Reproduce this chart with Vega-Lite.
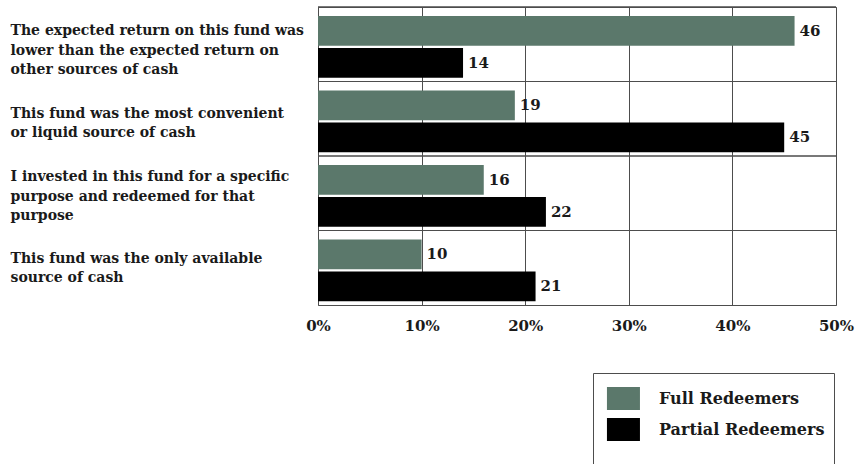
{
  "$schema": "https://vega.github.io/schema/vega-lite/v6.json",
  "width": 518,
  "height": 298,
  "autosize": {"type": "none"},
  "padding": {"left": 318, "top": 7, "right": 23, "bottom": 159},
  "background": "white",
  "config": {
    "view": {"stroke": "#4d4d4d", "strokeWidth": 1},
    "font": "DejaVu Serif"
  },
  "data": {
    "values": [
      {"reason": "The expected return on this fund was|lower than the expected return on|other sources of cash", "group": "Full Redeemers", "pct": 46},
      {"reason": "The expected return on this fund was|lower than the expected return on|other sources of cash", "group": "Partial Redeemers", "pct": 14},
      {"reason": "This fund was the most convenient|or liquid source of cash", "group": "Full Redeemers", "pct": 19},
      {"reason": "This fund was the most convenient|or liquid source of cash", "group": "Partial Redeemers", "pct": 45},
      {"reason": "I invested in this fund for a specific|purpose and redeemed for that|purpose", "group": "Full Redeemers", "pct": 16},
      {"reason": "I invested in this fund for a specific|purpose and redeemed for that|purpose", "group": "Partial Redeemers", "pct": 22},
      {"reason": "This fund was the only available|source of cash", "group": "Full Redeemers", "pct": 10},
      {"reason": "This fund was the only available|source of cash", "group": "Partial Redeemers", "pct": 21}
    ]
  },
  "layer": [
    {
      "mark": {"type": "rule", "color": "#4d4d4d", "strokeWidth": 1},
      "encoding": {
        "y": {
          "field": "reason", "type": "nominal", "sort": null, "bandPosition": 0,
          "scale": {"paddingInner": 0, "paddingOuter": 0},
          "axis": {
            "title": null, "ticks": false, "tickSize": 0, "domain": false, "grid": false,
            "labelAlign": "left", "labelBaseline": "middle", "labelPadding": 308,
            "labelExpr": "split(datum.value, '|')",
            "labelOffset": {"condition": [
              {"test": "indexof(datum.value, 'expected') >= 0", "value": -13},
              {"test": "indexof(datum.value, 'invested') >= 0", "value": -16},
              {"test": "indexof(datum.value, 'convenient') >= 0", "value": -5}
            ], "value": -9},
            "labelFontSize": 14, "labelFontWeight": "bold", "labelLineHeight": 19.5,
            "labelLimit": 0, "labelColor": "#1a1a1a", "labelFont": "DejaVu Serif"
          }
        }
      }
    },
    {
      "mark": {"type": "bar"},
      "encoding": {
        "y": {"field": "reason", "type": "nominal", "sort": null},
        "yOffset": {
          "field": "group", "type": "nominal", "sort": null,
          "scale": {"paddingInner": 0.07, "paddingOuter": 0.2, "align": 0.7}
        },
        "x": {
          "field": "pct", "type": "quantitative",
          "scale": {"domain": [0, 50], "nice": false, "zero": true},
          "axis": {
            "title": null, "values": [0, 10, 20, 30, 40, 50],
            "labelExpr": "datum.value + '%'",
            "grid": true, "gridColor": "#4d4d4d", "gridOpacity": 1, "gridWidth": 1,
            "ticks": false, "tickSize": 0, "domain": false,
            "labelPadding": 13, "labelFontSize": 15, "labelFontWeight": "bold",
            "labelFlush": false, "labelOverlap": false, "labelBound": false,
            "labelColor": "#1a1a1a", "labelFont": "DejaVu Serif"
          }
        },
        "color": {
          "field": "group", "type": "nominal", "sort": null,
          "scale": {"domain": ["Full Redeemers", "Partial Redeemers"], "range": ["#5b786b", "#000000"]},
          "legend": {
            "orient": "none", "legendX": 275, "legendY": 366,
            "title": " ", "titleOrient": "bottom", "titlePadding": 20,
            "strokeColor": "#4d4d4d", "padding": 9, "fillColor": "white",
            "symbolType": "M-0.7,-0.7L1.3,-0.7L1.3,0.7L-0.7,0.7Z", "symbolSize": 1089,
            "symbolStrokeWidth": 0, "symbolOpacity": 1,
            "labelFontSize": 16, "labelFontWeight": "bold", "labelOffset": 24,
            "labelLimit": 300,
            "labelColor": "#1a1a1a", "labelFont": "DejaVu Serif", "rowPadding": 2
          }
        }
      }
    },
    {
      "mark": {"type": "text", "align": "left", "baseline": "middle", "dx": 5,
               "fontSize": 15, "fontWeight": "bold", "color": "#1a1a1a", "font": "DejaVu Serif"},
      "encoding": {
        "y": {"field": "reason", "type": "nominal", "sort": null},
        "yOffset": {"field": "group", "type": "nominal", "sort": null},
        "x": {"field": "pct", "type": "quantitative"},
        "text": {"field": "pct", "type": "quantitative"}
      }
    }
  ]
}
